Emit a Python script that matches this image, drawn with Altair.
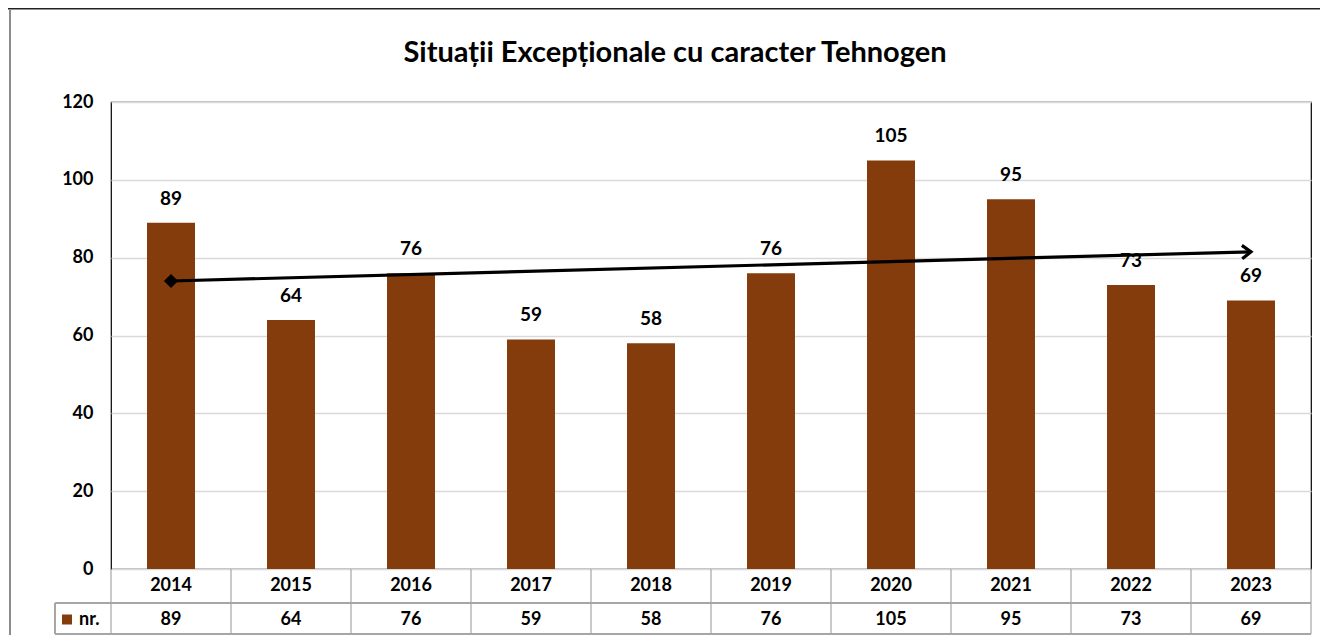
import altair as alt
import pandas as pd

# ---- data ----
years = ["2014", "2015", "2016", "2017", "2018", "2019", "2020", "2021", "2022", "2023"]
values = [89, 64, 76, 59, 58, 76, 105, 95, 73, 69]
y_ticks = [0, 20, 40, 60, 80, 100, 120]
trend_values = [74, 81.5]          # hand-drawn trend arrow (start at 2014, end at 2023)
series_label = "nr."
title_text = "Situații Excepționale cu caracter Tehnogen"

FONT = "Lato"
BROWN = "#843C0C"
GRID = "#a6a6a6"

W, H = 1200, 467
n = len(years)
ROW1_BOT = 501
ROW2_BOT = 532

df = pd.DataFrame({
    "year": years,
    "value": values,
    "pos": [i + 0.5 for i in range(n)],
    "left": [i + 0.3 for i in range(n)],
    "right": [i + 0.7 for i in range(n)],
})
bounds = pd.DataFrame({"b": list(range(n + 1))})
trend = pd.DataFrame({"pos": [0.5, n - 0.5], "v": trend_values, "k": ["start", "end"]})

xs = alt.Scale(domain=[0, n], nice=False, zero=False)
ys = alt.Scale(domain=[0, 120], nice=False)

base = alt.Chart(df)

bars = base.mark_rect(color=BROWN).encode(
    x=alt.X("left:Q", scale=xs, axis=None),
    x2="right:Q",
    y=alt.Y("value:Q", scale=ys, axis=alt.Axis(
        values=y_ticks, grid=True, gridColor="#d9d9d9", gridWidth=1.5,
        domain=False, ticks=False, labelFont=FONT, labelFontSize=18,
        labelFontWeight="bold", labelColor="black", labelPadding=18, title=None)),
    y2=alt.Y2(datum=0),
)

labels = base.mark_text(dy=-24, fontSize=19, fontWeight="bold", font=FONT,
                        color="black", baseline="middle").encode(
    x=alt.X("pos:Q", scale=xs), y=alt.Y("value:Q", scale=ys), text="value:Q")

trend_line = alt.Chart(trend).mark_line(color="black", strokeWidth=3.2).encode(
    x=alt.X("pos:Q", scale=xs), y=alt.Y("v:Q", scale=ys))
trend_start = alt.Chart(trend).transform_filter(alt.datum.k == "start").mark_point(
    shape="diamond", filled=True, size=200, color="black", opacity=1).encode(
    x=alt.X("pos:Q", scale=xs), y=alt.Y("v:Q", scale=ys))
trend_end = alt.Chart(trend).transform_filter(alt.datum.k == "end").mark_point(
    shape="M -1 -0.75 L 0 0 L -1 0.75", filled=False, size=320, strokeWidth=3.2,
    color="black", opacity=1, angle=358.45).encode(
    x=alt.X("pos:Q", scale=xs), y=alt.Y("v:Q", scale=ys))

# ---- data table below the plot ----
vlines = alt.Chart(bounds).mark_rule(color=GRID, strokeWidth=1.2).encode(
    x=alt.X("b:Q", scale=xs), y=alt.value(H), y2=alt.value(ROW2_BOT))
h_mid = alt.Chart(df).mark_rect(color=GRID).encode(
    x=alt.value(-56), x2=alt.value(W), y=alt.value(ROW1_BOT - 0.6), y2=alt.value(ROW1_BOT + 0.6))
h_bot = alt.Chart(df).mark_rect(color=GRID).encode(
    x=alt.value(-56), x2=alt.value(W), y=alt.value(ROW2_BOT - 0.6), y2=alt.value(ROW2_BOT + 0.6))
v_leg = alt.Chart(df).mark_rule(color=GRID, strokeWidth=1.2).encode(
    x=alt.value(-56), y=alt.value(ROW1_BOT), y2=alt.value(ROW2_BOT))

row1_mid = (H + ROW1_BOT) / 2
row2_mid = (ROW1_BOT + ROW2_BOT) / 2 + 1
year_txt = base.mark_text(fontSize=18, fontWeight="bold", font=FONT, color="black",
                          baseline="middle").encode(
    x=alt.X("pos:Q", scale=xs), y=alt.value(row1_mid), text="year:N")
val_txt = base.mark_text(fontSize=18, fontWeight="bold", font=FONT, color="black",
                         baseline="middle").encode(
    x=alt.X("pos:Q", scale=xs), y=alt.value(row2_mid), text="value:Q")

leg_df = pd.DataFrame({"label": [series_label]})
leg_sq = alt.Chart(leg_df).mark_square(color=BROWN, size=100, opacity=1).encode(
    x=alt.value(-44), y=alt.value(row2_mid))
leg_txt = alt.Chart(leg_df).mark_text(fontSize=18, fontWeight="bold", font=FONT,
                                      color="black", align="left", baseline="middle").encode(
    x=alt.value(-32), y=alt.value(row2_mid), text="label:N")

# ---- title & outer frame ----
title_df = pd.DataFrame({"t": [title_text]})
title = alt.Chart(title_df).mark_text(fontSize=29, fontWeight="bold", font=FONT,
                                      color="black", baseline="middle").encode(
    x=alt.value(564), y=alt.value(-49), text="t:N")
frame_top = alt.Chart(title_df).mark_rect(color="#222222").encode(
    x=alt.value(-103), x2=alt.value(1215), y=alt.value(-94), y2=alt.value(-92.5))
frame_left = alt.Chart(title_df).mark_rule(color="#8c8c8c", strokeWidth=2).encode(
    x=alt.value(-101), y=alt.value(-93), y2=alt.value(533))

chart = alt.layer(
    bars, labels, trend_line, trend_start, trend_end,
    vlines, h_mid, h_bot, v_leg, year_txt, val_txt, leg_sq, leg_txt,
    title, frame_top, frame_left,
).properties(
    width=W, height=H,
    padding={"left": 103, "top": 94, "right": 9, "bottom": 66},
    autosize=alt.AutoSizeParams(type="none"),
).configure_view(stroke="black", strokeWidth=1.2)

chart.save("out.html", embed_options={"renderer": "svg", "actions": False})
